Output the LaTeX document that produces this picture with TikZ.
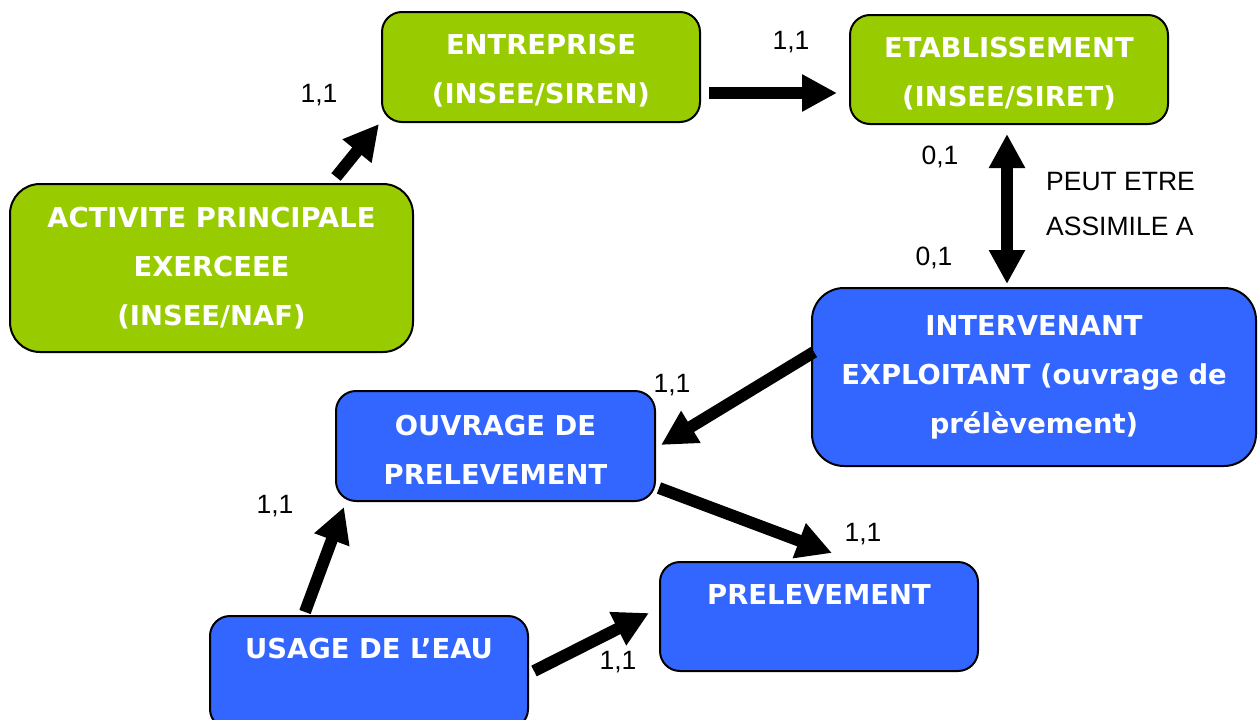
\documentclass[tikz,border=0pt]{standalone}
\usepackage{fontspec}
\setmainfont{Liberation Sans}
\newfontfamily\boxfont{DejaVu Sans}
\usetikzlibrary{arrows.meta}

\definecolor{boxgreen}{RGB}{153,204,0}
\definecolor{boxblue}{RGB}{51,102,255}

\tikzset{
  entity/.style={draw=black, line width=2pt, text=white, align=center,
    inner sep=0pt, font=\boxfont\bfseries\fontsize{27.4}{49}\selectfont},
  entitytext/.style={text=white, align=center, inner sep=0pt,
    font=\boxfont\bfseries\fontsize{27.4}{49}\selectfont},
  smallbox/.style={minimum width=318pt, minimum height=110pt, rounded corners=20pt},
  greenbox/.style={entity, fill=boxgreen},
  bluebox/.style={entity, fill=boxblue},
  card/.style={font=\fontsize{26.5}{45}\selectfont, inner sep=0pt, anchor=base},
  link/.style={line width=12pt, -{Triangle[length=35pt,width=35pt]}},
  bilink/.style={line width=12pt, {Triangle[length=34pt,width=34pt]}-{Triangle[length=34pt,width=34pt]}},
}

\begin{document}
\begin{tikzpicture}[x=1pt,y=-1pt]
\useasboundingbox (0,0) rectangle (1259,720);

% entities
\node[greenbox, smallbox] (ent) at (541,67) {};
\node[entitytext] (ent-t) at ([shift={(0,4)}]ent.center) {ENTREPRISE\\(INSEE/SIREN)};
\node[greenbox, smallbox, minimum height=109pt] (eta) at (1009,69.5) {};
\node[entitytext] (eta-t) at ([shift={(0,4)}]eta.center) {ETABLISSEMENT\\(INSEE/SIRET)};
\node[greenbox, minimum width=403pt, minimum height=168pt, rounded corners=30pt]
  (act) at (211.5,268) {ACTIVITE PRINCIPALE\\EXERCEEE\\(INSEE/NAF)};
\node[bluebox, minimum width=444pt, minimum height=178pt, rounded corners=32pt]
  (int) at (1034,377) {INTERVENANT\\EXPLOITANT (ouvrage de\\prélèvement)};
\node[bluebox, smallbox, minimum width=319pt] (ouv) at (495.5,446) {};
\node[entitytext] (ouv-t) at ([shift={(0,4)}]ouv.center) {OUVRAGE DE\\PRELEVEMENT};
\node[bluebox, smallbox, minimum height=109pt] (prel) at (819,616.5) {};
\node[entitytext] (prel-t) at ([shift={(0,3)}]prel.center) {PRELEVEMENT\\\mbox{}};
\node[bluebox, minimum width=318pt, minimum height=113pt, rounded corners=20pt]
  (usa) at (369,672.5) {USAGE DE L’EAU\\\mbox{}};

% relations
\draw[link] ([shift={(327,-6)}]act.north west) -- ([shift={(-2,1)}]ent.south west);
\draw[link] ([shift={(8,-30)}]ent.south east) -- ([shift={(-12,-32)}]eta.south west);
\draw[bilink] ([shift={(-2,9)}]eta.south) -- ([shift={(-27,-3)}]int.north);
\draw[link] ([shift={(3,-25)}]int.west) -- ([shift={(5,-1)}]ouv.east);
\draw[link] ([shift={(3,-14)}]ouv.south east) -- ([shift={(173,-8)}]prel.north west);
\draw[link] ([shift={(96,-3)}]usa.north west) -- ([shift={(9,5)}]ouv.south west);
\draw[link] ([shift={(5,56)}]usa.north east) -- ([shift={(-10,52)}]prel.north west);

% cardinalities
\node[card] (c1) at (319,102) {1,1};
\node[card] (c2) at (791,49) {1,1};
\node[card] (c3) at (940,164) {0,1};
\node[card] (c4) at (934,265) {0,1};
\node[card] (c5) at (672,392) {1,1};
\node[card] (c6) at (863,541) {1,1};
\node[card] (c7) at (275,513) {1,1};
\node[card] (c8) at (618,669) {1,1};
\node[card, anchor=base west] (r1) at (1046,190) {PEUT ETRE};
\node[card, anchor=base west] (r2) at (1046,235) {ASSIMILE A};
\end{tikzpicture}
\end{document}
